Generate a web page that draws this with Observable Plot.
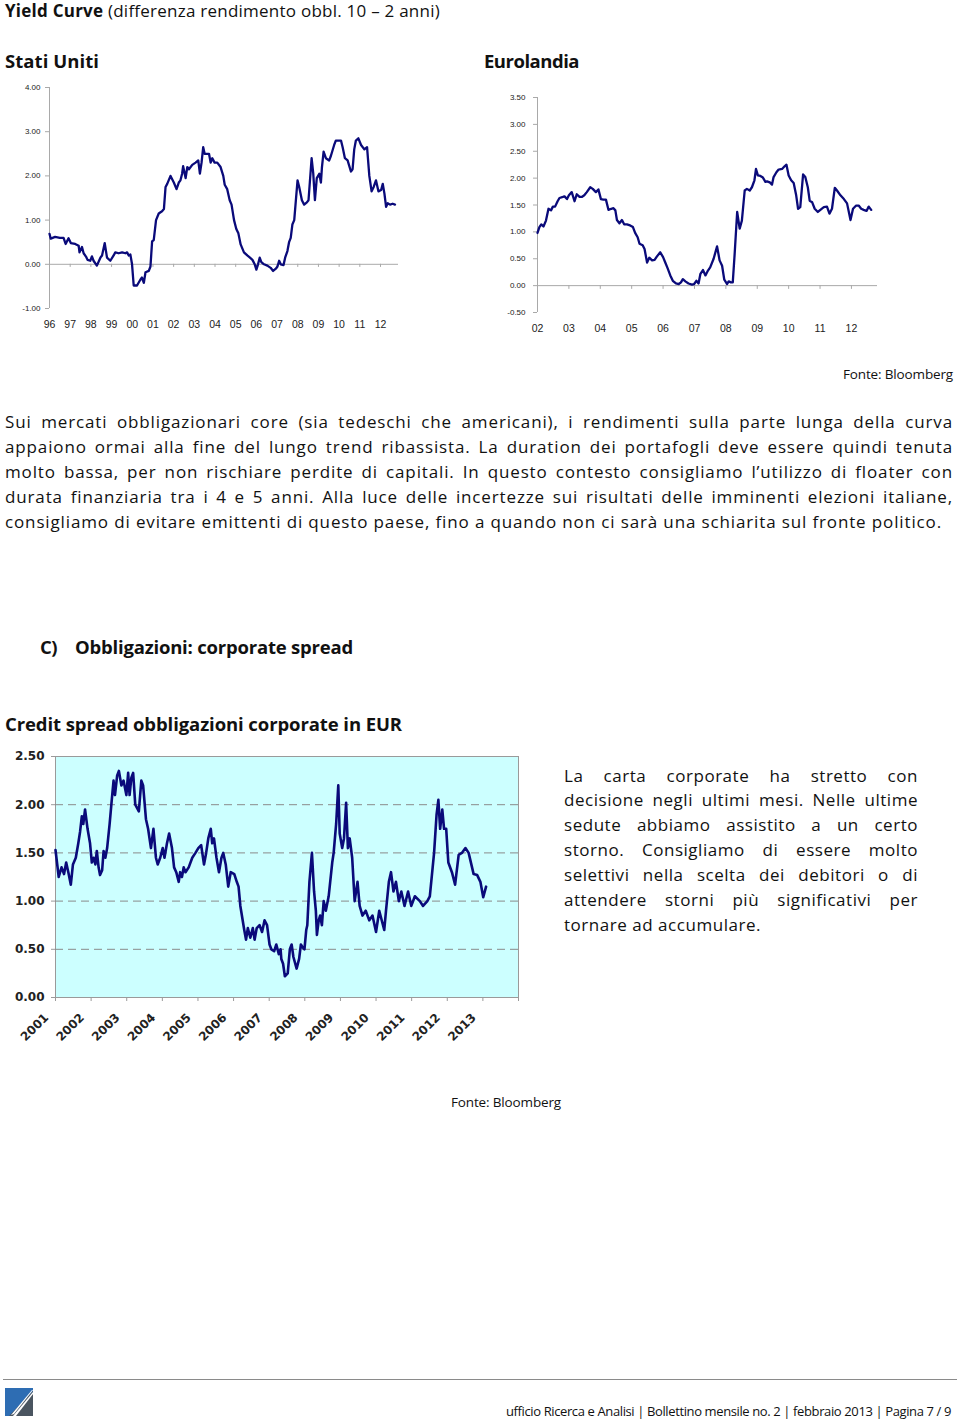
<!DOCTYPE html>
<html><head><meta charset="utf-8">
<script src="https://cdn.jsdelivr.net/npm/d3@7"></script>
<script src="https://cdn.jsdelivr.net/npm/@observablehq/plot@0.6"></script>
<style>
html,body{margin:0;padding:0;background:#fff;}
#page{position:relative;width:960px;height:1421px;overflow:hidden;font-family:"Open Sans",sans-serif;color:#111;}
.t{position:absolute;white-space:nowrap;line-height:1.4;}
.jl{position:absolute;line-height:1.4;white-space:nowrap;text-align:justify;text-align-last:justify;}
.box{position:absolute;}
</style></head><body><div id="page"></div>
<script>
// ---------------- DATA ----------------
const usYears = [1996.00,1996.06,1996.27,1996.50,1996.68,1996.78,1996.92,1997.03,1997.24,1997.41,1997.45,1997.57,1997.65,1997.78,1997.84,1997.97,1998.05,1998.13,1998.29,1998.46,1998.54,1998.67,1998.78,1998.94,1999.10,1999.18,1999.34,1999.51,1999.67,1999.75,1999.83,1999.91,1999.99,2000.07,2000.23,2000.39,2000.47,2000.56,2000.64,2000.80,2000.88,2000.96,2001.04,2001.15,2001.28,2001.44,2001.53,2001.61,2001.69,2001.85,2002.01,2002.14,2002.25,2002.33,2002.41,2002.46,2002.58,2002.66,2002.74,2002.90,2003.06,2003.19,2003.27,2003.35,2003.43,2003.50,2003.71,2003.79,2003.87,2003.98,2004.11,2004.27,2004.40,2004.47,2004.59,2004.71,2004.80,2004.92,2005.03,2005.13,2005.24,2005.40,2005.56,2005.69,2005.81,2005.92,2006.00,2006.08,2006.16,2006.24,2006.37,2006.53,2006.69,2006.81,2006.94,2007.02,2007.10,2007.18,2007.31,2007.39,2007.50,2007.58,2007.66,2007.74,2007.83,2007.91,2007.99,2008.07,2008.20,2008.31,2008.44,2008.52,2008.67,2008.75,2008.83,2008.92,2009.04,2009.12,2009.17,2009.25,2009.36,2009.52,2009.60,2009.76,2009.84,2010.09,2010.17,2010.28,2010.41,2010.57,2010.65,2010.73,2010.81,2010.93,2011.06,2011.22,2011.35,2011.46,2011.57,2011.67,2011.78,2011.90,2012.03,2012.11,2012.19,2012.27,2012.35,2012.46,2012.59,2012.70];
const usValues = [0.69,0.58,0.62,0.60,0.60,0.46,0.59,0.48,0.46,0.42,0.27,0.39,0.25,0.16,0.10,0.08,0.18,0.08,-0.03,0.15,0.20,0.48,0.15,0.08,0.20,0.27,0.25,0.27,0.25,0.27,0.20,0.22,0.00,-0.48,-0.48,-0.35,-0.30,-0.42,-0.18,-0.15,-0.05,0.52,0.55,1.00,1.15,1.20,1.25,1.75,1.82,2.00,1.85,1.70,1.85,1.90,2.05,2.22,1.95,2.20,2.15,2.25,2.30,2.35,2.05,2.30,2.65,2.50,2.50,2.30,2.40,2.30,2.30,2.20,2.00,1.80,1.70,1.45,1.35,1.00,0.80,0.70,0.45,0.27,0.20,0.15,0.10,0.00,-0.12,0.00,0.15,0.05,0.00,-0.03,-0.08,-0.15,-0.10,-0.05,0.08,0.00,-0.02,0.15,0.30,0.50,0.60,0.90,1.00,1.45,1.90,1.75,1.45,1.35,1.40,1.45,2.40,2.05,1.45,1.95,2.05,1.85,2.20,2.55,2.40,2.35,2.45,2.70,2.80,2.80,2.65,2.40,2.35,2.10,2.15,2.60,2.80,2.85,2.70,2.60,2.65,2.00,1.65,1.75,1.90,1.65,1.68,1.82,1.60,1.30,1.38,1.35,1.37,1.35];
const usTickYears = [1996,1997,1998,1999,2000,2001,2002,2003,2004,2005,2006,2007,2008,2009,2010,2011,2012];
const usYTicks = [-1,0,1,2,3,4];

const euYears = [2002.00,2002.06,2002.12,2002.19,2002.27,2002.35,2002.43,2002.49,2002.56,2002.64,2002.70,2002.81,2002.86,2002.94,2003.00,2003.09,2003.18,2003.25,2003.34,2003.41,2003.49,2003.57,2003.68,2003.76,2003.86,2003.94,2004.02,2004.10,2004.18,2004.26,2004.35,2004.42,2004.48,2004.53,2004.61,2004.69,2004.76,2004.85,2004.95,2005.04,2005.11,2005.19,2005.25,2005.35,2005.41,2005.49,2005.56,2005.65,2005.73,2005.80,2005.91,2006.00,2006.07,2006.14,2006.23,2006.31,2006.41,2006.50,2006.57,2006.63,2006.71,2006.81,2006.92,2006.99,2007.06,2007.13,2007.19,2007.27,2007.35,2007.43,2007.50,2007.61,2007.72,2007.80,2007.88,2007.95,2008.04,2008.09,2008.16,2008.22,2008.28,2008.36,2008.44,2008.51,2008.60,2008.67,2008.76,2008.83,2008.91,2008.96,2009.02,2009.10,2009.18,2009.26,2009.31,2009.40,2009.47,2009.52,2009.61,2009.68,2009.79,2009.87,2009.93,2010.00,2010.08,2010.16,2010.24,2010.30,2010.37,2010.46,2010.53,2010.61,2010.67,2010.75,2010.83,2010.93,2011.01,2011.12,2011.22,2011.30,2011.38,2011.47,2011.54,2011.65,2011.76,2011.86,2011.97,2012.05,2012.15,2012.23,2012.31,2012.39,2012.48,2012.55,2012.63];
const euValues = [0.98,1.09,1.14,1.10,1.21,1.43,1.40,1.47,1.47,1.57,1.63,1.65,1.66,1.61,1.68,1.74,1.57,1.70,1.65,1.65,1.68,1.74,1.83,1.80,1.74,1.79,1.61,1.60,1.60,1.41,1.43,1.44,1.40,1.22,1.16,1.22,1.14,1.14,1.12,1.09,0.98,0.90,0.78,0.75,0.68,0.43,0.52,0.47,0.48,0.54,0.62,0.53,0.43,0.33,0.19,0.09,0.04,0.03,0.06,0.12,0.08,0.04,0.02,0.03,0.09,0.04,0.22,0.29,0.19,0.28,0.34,0.50,0.73,0.47,0.37,0.11,0.03,0.08,0.06,0.06,0.59,1.37,1.06,1.21,1.77,1.80,1.77,1.83,1.96,2.17,2.05,2.04,2.01,1.93,1.94,1.92,1.88,2.02,2.11,2.16,2.17,2.22,2.25,2.05,1.96,1.91,1.68,1.43,1.46,2.07,2.02,1.83,1.58,1.55,1.43,1.37,1.41,1.46,1.47,1.34,1.43,1.82,1.77,1.68,1.61,1.53,1.22,1.43,1.49,1.49,1.43,1.41,1.39,1.47,1.41];
const euTickYears = [2002,2003,2004,2005,2006,2007,2008,2009,2010,2011,2012];
const euYTicks = [-0.5,0,0.5,1,1.5,2,2.5,3,3.5];

const csYears = [2001.00,2001.09,2001.17,2001.24,2001.30,2001.36,2001.43,2001.49,2001.57,2001.64,2001.69,2001.74,2001.78,2001.83,2001.90,2001.97,2002.02,2002.07,2002.12,2002.16,2002.21,2002.25,2002.31,2002.35,2002.40,2002.45,2002.52,2002.58,2002.63,2002.67,2002.73,2002.78,2002.85,2002.91,2002.99,2003.04,2003.08,2003.13,2003.18,2003.24,2003.34,2003.41,2003.46,2003.54,2003.60,2003.68,2003.75,2003.82,2003.87,2003.94,2004.01,2004.06,2004.13,2004.19,2004.27,2004.33,2004.39,2004.46,2004.50,2004.55,2004.60,2004.65,2004.74,2004.84,2004.93,2005.01,2005.09,2005.17,2005.23,2005.29,2005.36,2005.40,2005.45,2005.52,2005.59,2005.66,2005.71,2005.78,2005.85,2005.92,2006.02,2006.09,2006.14,2006.19,2006.30,2006.35,2006.40,2006.47,2006.54,2006.59,2006.65,2006.73,2006.80,2006.87,2006.94,2007.01,2007.06,2007.14,2007.20,2007.27,2007.32,2007.34,2007.39,2007.44,2007.52,2007.58,2007.63,2007.68,2007.77,2007.84,2007.89,2007.94,2007.99,2008.04,2008.07,2008.13,2008.20,2008.26,2008.31,2008.34,2008.39,2008.43,2008.48,2008.53,2008.59,2008.67,2008.77,2008.81,2008.88,2008.94,2008.98,2009.05,2009.10,2009.16,2009.21,2009.26,2009.33,2009.40,2009.48,2009.54,2009.62,2009.71,2009.81,2009.90,2010.00,2010.09,2010.23,2010.28,2010.36,2010.42,2010.49,2010.56,2010.64,2010.71,2010.80,2010.90,2010.99,2011.09,2011.23,2011.32,2011.44,2011.51,2011.59,2011.63,2011.70,2011.75,2011.80,2011.86,2011.91,2011.97,2012.03,2012.13,2012.22,2012.32,2012.41,2012.51,2012.60,2012.74,2012.84,2012.93,2013.01,2013.09];
const csValues = [1.53,1.25,1.35,1.28,1.40,1.30,1.17,1.38,1.45,1.60,1.72,1.88,1.80,1.95,1.75,1.60,1.40,1.45,1.38,1.52,1.35,1.27,1.32,1.52,1.45,1.55,1.80,2.05,2.25,2.10,2.30,2.35,2.20,2.25,2.10,2.33,2.10,2.28,2.33,2.00,1.93,2.25,2.20,1.85,1.75,1.55,1.75,1.45,1.38,1.45,1.55,1.45,1.60,1.70,1.55,1.35,1.30,1.20,1.30,1.25,1.35,1.30,1.35,1.45,1.50,1.55,1.58,1.38,1.50,1.65,1.75,1.60,1.65,1.45,1.30,1.45,1.50,1.38,1.15,1.30,1.28,1.20,1.15,0.95,0.70,0.60,0.72,0.62,0.72,0.60,0.72,0.75,0.68,0.80,0.75,0.55,0.50,0.48,0.55,0.45,0.50,0.40,0.35,0.22,0.25,0.50,0.55,0.42,0.30,0.40,0.55,0.52,0.50,0.70,0.75,1.20,1.50,1.10,0.90,0.65,0.80,0.85,0.75,1.00,0.90,1.05,1.40,1.50,1.80,2.20,1.70,1.55,1.65,2.02,1.55,1.65,1.45,1.00,1.20,0.95,0.85,0.90,0.80,0.85,0.68,0.90,0.70,0.90,1.20,1.30,1.10,1.20,1.00,1.10,0.95,1.10,0.95,1.05,1.00,0.95,1.00,1.05,1.35,1.50,1.90,2.05,1.75,1.95,1.75,1.75,1.40,1.30,1.17,1.48,1.50,1.55,1.50,1.28,1.27,1.20,1.04,1.15];
const csTickYears = [2001,2002,2003,2004,2005,2006,2007,2008,2009,2010,2011,2012,2013,2014];
const csYTicks = [0,0.5,1,1.5,2,2.5];
const csGrid = [0.5,1,1.5,2];

const paraLines = [
 "Sui mercati obbligazionari core (sia tedeschi che americani), i rendimenti sulla parte lunga della curva",
 "appaiono ormai alla fine del lungo trend ribassista. La duration dei portafogli deve essere quindi tenuta",
 "molto bassa, per non rischiare perdite di capitali. In questo contesto consigliamo l’utilizzo di floater con",
 "durata finanziaria tra i 4 e 5 anni. Alla luce delle incertezze sui risultati delle imminenti elezioni italiane,",
 "consigliamo di evitare emittenti di questo paese, fino a quando non ci sarà una schiarita sul fronte politico."
];
const sideLines = [
 "La carta corporate ha stretto con",
 "decisione negli ultimi mesi. Nelle ultime",
 "sedute abbiamo assistito a un certo",
 "storno. Consigliamo di essere molto",
 "selettivi nella scelta dei debitori o di",
 "attendere storni più significativi per",
 "tornare ad accumulare."
];

// ---------------- HELPERS ----------------
const page = document.getElementById("page");
const TOP = 0.79; // visual centre offset for line-height 1.4
function text(html, x, cy, size, opts = {}) {
  const el = document.createElement("div");
  el.className = "t";
  el.innerHTML = html;
  el.style.fontSize = size + "px";
  el.style.fontWeight = opts.weight || 400;
  el.style.top = (cy - size * TOP) + "px";
  page.appendChild(el);
  if (opts.width) {
    const w = el.getBoundingClientRect().width;
    const n = el.textContent.length;
    el.style.letterSpacing = ((opts.width - w) / n) + "px";
  }
  if (opts.right != null) {
    const w = el.getBoundingClientRect().width;
    el.style.left = (opts.right - w) + "px";
  } else el.style.left = x + "px";
  return el;
}
function justified(lines, x, width, lastW, centers, size) {
  const probe = document.createElement("div");
  probe.className = "t"; probe.style.fontSize = size + "px"; page.appendChild(probe);
  let ls = Infinity;
  lines.forEach((s, i) => {
    probe.textContent = s;
    const w = probe.getBoundingClientRect().width;
    const target = i === lines.length - 1 ? lastW : width - 6;
    ls = Math.min(ls, (target - w) / s.length);
  });
  probe.remove();
  lines.forEach((s, i) => {
    const el = document.createElement("div");
    el.className = i === lines.length - 1 ? "t" : "jl";
    el.textContent = s;
    el.style.fontSize = size + "px";
    el.style.letterSpacing = ls + "px";
    el.style.left = x + "px";
    el.style.top = (centers[i] - size * TOP) + "px";
    if (i !== lines.length - 1) el.style.width = width + "px";
    page.appendChild(el);
  });
}
function place(svg, left, top) {
  const d = document.createElement("div");
  d.className = "box"; d.style.left = left + "px"; d.style.top = top + "px";
  d.appendChild(svg); page.appendChild(d);
}
const fmt2 = d => d.toFixed(2);

// ---------------- TEXTS ----------------
text('<b>Yield Curve</b> (differenza rendimento obbl. 10 – 2 anni)', 5, 12, 17, {width: 435});
text('Stati Uniti', 5, 63, 18.5, {weight: 700, width: 94});
text('Eurolandia', 484, 63, 18.5, {weight: 700, width: 95});
text('Fonte: Bloomberg', 0, 376, 13.5, {right: 953, width: 110});
justified(paraLines, 5, 948, 937, [423, 448, 473, 498, 523], 17);
text('C)', 40, 649, 18.5, {weight: 700, width: 17});
text('Obbligazioni: corporate spread', 75, 649, 18.5, {weight: 700, width: 278});
text('Credit spread obbligazioni corporate in EUR', 5, 726, 18.5, {weight: 700, width: 397});
justified(sideLines, 564, 354, 197, [777, 801.5, 826, 851, 876, 901, 926], 17);
text('Fonte: Bloomberg', 451, 1104, 13.5, {width: 110});
text('ufficio Ricerca e Analisi | Bollettino mensile no. 2 | febbraio 2013 | Pagina 7 / 9', 0, 1412, 13, {right: 951, width: 445});

// footer rule + logo
const rule = document.createElement("div");
rule.style.cssText = "position:absolute;left:3px;top:1379px;width:954px;height:1px;background:#8a8a8a;";
page.appendChild(rule);
const logo = document.createElement("div");
logo.className = "box"; logo.style.left = "5px"; logo.style.top = "1388px";
logo.innerHTML = '<svg width="28" height="28" viewBox="0 0 28 28"><rect width="28" height="28" fill="#4a5560"/><polygon points="0,0 28,0 28,3 4,28 0,28" fill="#2e6db3"/><polygon points="27,2 28,2 9,26 6,27" fill="#fff"/><polygon points="28,4 28,6 11,28 8,28" fill="#fff"/></svg>';
page.appendChild(logo);

// ---------------- US CHART ----------------
const usData = usYears.map((x, i) => ({x, y: usValues[i]}));
const axisStyle = {fontFamily: "'Liberation Sans', Arial, sans-serif", background: "transparent", overflow: "visible"};
place(Plot.plot({
  width: 410, height: 258,
  marginLeft: 49, marginRight: 12, marginTop: 7, marginBottom: 30,
  x: {domain: [1996, 2012.87]},
  y: {domain: [-1, 4]},
  style: axisStyle,
  marks: [
    Plot.ruleY([0], {stroke: "#a9a9a9"}),
    Plot.ruleX([1996], {stroke: "#a9a9a9"}),
    Plot.ruleX(usTickYears.slice(1), {x: d => d, y1: 0, y2: -0.07, stroke: "#a9a9a9"}),
    Plot.axisY({ticks: usYTicks, tickFormat: fmt2, tickSize: 4, tickPadding: 5, fontSize: 8, fill: "#222", stroke: "#a9a9a9", label: null}),
    Plot.axisX({ticks: usTickYears, tickFormat: d => String(d % 100).padStart(2, "0"), tickSize: 0, tickPadding: 12, fontSize: 10.5, fill: "#222", label: null}),
    Plot.line(usData, {x: "x", y: "y", stroke: "#0a0a7a", strokeWidth: 2.3})
  ]
}), 0, 80);

// ---------------- EURO CHART ----------------
const euData = euYears.map((x, i) => ({x, y: euValues[i]}));
place(Plot.plot({
  width: 407, height: 252,
  marginLeft: 57, marginRight: 10, marginTop: 7, marginBottom: 30,
  x: {domain: [2002, 2012.83]},
  y: {domain: [-0.5, 3.5]},
  style: axisStyle,
  marks: [
    Plot.ruleY([0], {stroke: "#a9a9a9"}),
    Plot.ruleX([2002], {stroke: "#a9a9a9"}),
    Plot.ruleX(euTickYears.slice(1), {x: d => d, y1: 0, y2: -0.07, stroke: "#a9a9a9"}),
    Plot.axisY({ticks: euYTicks, tickFormat: fmt2, tickSize: 4, tickPadding: 8, fontSize: 8, fill: "#222", stroke: "#a9a9a9", label: null}),
    Plot.axisX({ticks: euTickYears, tickFormat: d => String(d % 100).padStart(2, "0"), tickSize: 0, tickPadding: 12, fontSize: 10.5, fill: "#222", label: null}),
    Plot.line(euData, {x: "x", y: "y", stroke: "#0a0a7a", strokeWidth: 2.3})
  ]
}), 480, 90);

// ---------------- CREDIT SPREAD CHART ----------------
const csData = csYears.map((x, i) => ({x, y: csValues[i]}));
place(Plot.plot({
  width: 528, height: 302,
  marginLeft: 55, marginRight: 10, marginTop: 11, marginBottom: 50,
  x: {domain: [2001, 2014]},
  y: {domain: [0, 2.5]},
  style: {fontFamily: "'DejaVu Sans', Verdana, sans-serif", background: "transparent", overflow: "visible"},
  marks: [
    Plot.frame({fill: "#ccffff", stroke: "#9a9a9a"}),
    Plot.ruleY(csGrid, {stroke: "#8a8a8a", strokeDasharray: "8,5"}),
    Plot.axisY({ticks: csYTicks, tickFormat: fmt2, tickSize: 4, tickPadding: 7, fontSize: 12, fontWeight: "bold", fill: "#222", stroke: "#9a9a9a", label: null}),
    Plot.axisX({ticks: csTickYears, tickFormat: () => null, tickSize: 4, stroke: "#9a9a9a", label: null}),
    Plot.axisX({ticks: csTickYears.slice(0, -1), tickFormat: d => String(d), tickSize: 0, tickPadding: 4, tickRotate: -45, dx: -9, dy: 14, fontSize: 12, fontWeight: "bold", fill: "#222", label: null}),
    Plot.line(csData, {x: "x", y: "y", stroke: "#0a0a7a", strokeWidth: 2.6})
  ]
}), 0, 745);
</script></body></html>
